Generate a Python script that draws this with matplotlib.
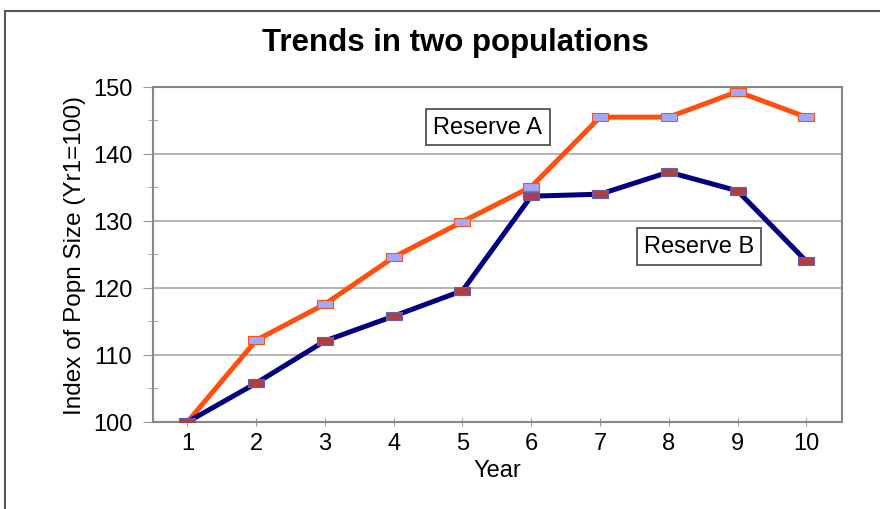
import matplotlib.pyplot as plt
from matplotlib.patches import Rectangle
from matplotlib.ticker import MultipleLocator

plt.rcParams['font.family'] = ['Liberation Sans', 'DejaVu Sans']

# index values (Yr1 = 100)
years = [1, 2, 3, 4, 5, 6, 7, 8, 9, 10]
reserve_a = [100, 112.2, 117.6, 124.6, 129.9, 135.1, 145.5, 145.5, 149.3, 145.5]
reserve_b = [100, 105.8, 112.1, 115.8, 119.6, 133.7, 134.0, 137.3, 134.5, 124.0]

fig = plt.figure(figsize=(8.8, 5.1), dpi=100)
ax = fig.add_axes([0.1739, 0.1706, 0.7830, 0.6569])

# outer chart frame (only top and left edges visible)
fig.add_artist(Rectangle((0.006, -0.2), 1.5, 0.2 + 0.977, transform=fig.transFigure,
                         fill=False, edgecolor='#555555', linewidth=1.5))

# wide rectangle marker like the Excel one
rect = [(-1, -0.5), (1, -0.5), (1, 0.5), (-1, 0.5), (-1, -0.5)]

ax.plot(years, reserve_a, color='#ff5010', linewidth=3.6, marker=rect, markersize=11,
        markerfacecolor='#a0a8ff', markeredgecolor='#ff5010', markeredgewidth=0.8, zorder=3)
ax.plot(years, reserve_b, color='#000080', linewidth=3.6, marker=rect, markersize=11,
        markerfacecolor='#b04040', markeredgecolor='#6060c0', markeredgewidth=0.8, zorder=4)

ax.set_xlim(0.5, 10.52)
ax.set_ylim(100, 150)
ax.set_xticks(years)
ax.yaxis.set_major_locator(MultipleLocator(10))
ax.yaxis.set_minor_locator(MultipleLocator(5))
ax.grid(axis='y', which='major', color='#a8a8a8', linewidth=1.2)
ax.set_axisbelow(True)

for s in ax.spines.values():
    s.set_color('#888888')
    s.set_linewidth(1.5)

ax.tick_params(axis='y', which='major', direction='out', length=7, color='#999999',
               labelsize=17, pad=8)
ax.tick_params(axis='y', which='minor', direction='inout', length=7, color='#999999')
ax.tick_params(axis='x', direction='inout', length=6, color='#999999', labelsize=17, pad=4)

ax.set_xlabel('Year', fontsize=17, labelpad=4)
ax.set_ylabel('Index of Popn Size (Yr1=100)', fontsize=17.5, labelpad=5)

fig.text(0.518, 0.916, 'Trends in two populations', ha='center', va='center',
         fontsize=22.5, fontweight='bold')

box = dict(boxstyle='square,pad=0.3', facecolor='white', edgecolor='#555555', linewidth=1.3)
ax.text(5.37, 144.0, 'Reserve A', fontsize=17, ha='center', va='center', bbox=box, zorder=5)
ax.text(8.44, 126.2, 'Reserve B', fontsize=17, ha='center', va='center', bbox=box, zorder=5)

fig.savefig('out.png', dpi=100, facecolor='white')
